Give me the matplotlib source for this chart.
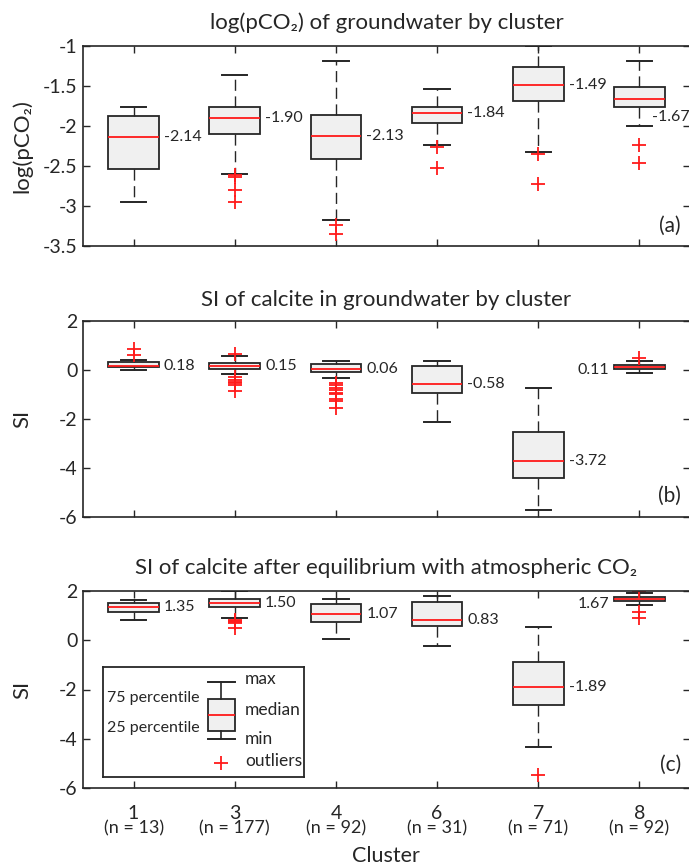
import matplotlib
matplotlib.use("Agg")
import matplotlib.pyplot as plt
from matplotlib import font_manager as fm

# ---------------- data ----------------
clusters = ['1', '3', '4', '6', '7', '8']
n_counts = [13, 177, 92, 31, 71, 92]

# Panel (a): log(pCO2)
a_whislo = [-2.95, -2.60, -3.17, -2.24, -2.33, -2.00]
a_q1 = [-2.54, -2.10, -2.41, -1.96, -1.69, -1.76]
a_med = [-2.14, -1.90, -2.13, -1.84, -1.49, -1.67]
a_q3 = [-1.88, -1.76, -1.86, -1.76, -1.26, -1.52]
a_whishi = [-1.77, -1.36, -1.19, -1.545, -1.00, -1.195]
a_fliers = [[], [-2.62, -2.64, -2.80, -2.95], [-3.24, -3.355],
            [-2.27, -2.53], [-2.35, -2.73], [-2.24, -2.47]]

# Panel (b): SI of calcite in groundwater
b_whislo = [-0.01, -0.18, -0.31, -2.13, -5.71, -0.13]
b_q1 = [0.13, 0.05, -0.08, -0.95, -4.39, 0.04]
b_med = [0.18, 0.15, 0.06, -0.58, -3.72, 0.11]
b_q3 = [0.31, 0.27, 0.23, 0.16, -2.54, 0.20]
b_whishi = [0.41, 0.57, 0.37, 0.38, -0.73, 0.38]
b_fliers = [[0.62, 0.85], [0.65, -0.30, -0.40, -0.48, -0.55, -0.62, -0.85],
            [-0.52, -0.62, -0.72, -0.82, -0.92, -1.0, -1.2, -1.25, -1.55],
            [], [], [0.47]]

# Panel (c): SI of calcite after equilibrium with atmospheric CO2
c_whislo = [0.84, 0.91, 0.05, -0.23, -4.34, 1.42]
c_q1 = [1.15, 1.37, 0.74, 0.56, -2.63, 1.60]
c_med = [1.35, 1.50, 1.07, 0.83, -1.89, 1.67]
c_q3 = [1.53, 1.67, 1.49, 1.54, -0.88, 1.77]
c_whishi = [1.65, 2.0, 1.69, 1.80, 0.53, 1.93]
c_fliers = [[], [0.82, 0.78, 0.74, 0.70, 0.50], [], [], [-5.49], [2.0, 1.15, 0.90]]

titles = ["log(pCO\u2082) of groundwater by cluster",
          "SI of calcite in groundwater by cluster",
          "SI of calcite after equilibrium with atmospheric CO\u2082"]
ylabels = ["log(pCO\u2082)", "SI", "SI"]
panel_tags = ["(a)", "(b)", "(c)"]
a_yticks = [-1, -1.5, -2, -2.5, -3, -3.5]
si_yticks = [2, 0, -2, -4, -6]

# legend key values (schematic)
key_stats = dict(whislo=37.4, q1=46, med=61.4, q3=78, whishi=95, fliers=[14])

# ---------------- style ----------------
names = {f.name for f in fm.fontManager.ttflist}
main = 'Liberation Sans Narrow' if 'Liberation Sans Narrow' in names else 'Lato'
plt.rcParams['font.family'] = [main, 'DejaVu Sans']
plt.rcParams['axes.unicode_minus'] = False
DARK = '#262626'
BOXFILL = '#f0f0f0'

W, H = 689, 867
fig = plt.figure(figsize=(W / 100, H / 100), dpi=100)

def px_axes(left, top, right, bottom):
    return fig.add_axes([left / W, 1 - bottom / H, (right - left) / W, (bottom - top) / H])

axes = [px_axes(83, 45.7, 690, 246), px_axes(83, 321, 690, 517), px_axes(83, 591, 690, 788)]
title_y = [23, 300, 568]
tag_y = [0.10, 0.11, 0.12]

panels = [
    (a_whislo, a_q1, a_med, a_q3, a_whishi, a_fliers, (-3.5, -1), a_yticks),
    (b_whislo, b_q1, b_med, b_q3, b_whishi, b_fliers, (-6, 2), si_yticks),
    (c_whislo, c_q1, c_med, c_q3, c_whishi, c_fliers, (-6, 2), si_yticks),
]
positions = list(range(1, len(clusters) + 1))

def fmt(v):
    return f"{v:g}"

for i, (ax, (wl, q1, md, q3, wh, fl, ylim, yt)) in enumerate(zip(axes, panels)):
    stats = []
    for k in range(len(clusters)):
        stats.append(dict(whislo=wl[k], q1=q1[k], med=md[k], q3=q3[k], whishi=wh[k], fliers=fl[k]))
    ax.bxp(stats, positions=positions, widths=0.5, capwidths=0.25, patch_artist=True,
           boxprops=dict(facecolor=BOXFILL, edgecolor=DARK, linewidth=1.3),
           whiskerprops=dict(color=DARK, linewidth=1.0, linestyle=(0, (8, 4))),
           capprops=dict(color=DARK, linewidth=1.4),
           medianprops=dict(color='#ff1a1a', linewidth=1.3),
           flierprops=dict(marker='+', markeredgecolor='#ff1a1a', markersize=10,
                           markeredgewidth=1.3, linestyle='none'),
           zorder=2)
    for k, pos in enumerate(positions):
        label = f"{md[k]:.2f}"
        x, y, ha = pos + 0.30, md[k], 'left'
        if k == len(clusters) - 1:
            if i == 0:
                x, y = pos + 0.12, md[k] - 0.22
            else:
                x, ha = pos - 0.30, 'right'
                y = md[k] - (0.10 if i == 1 else 0.18)
        ax.text(x, y, label, ha=ha, va='center', fontsize=11.5, color=DARK)
    ax.set_xlim(0.5, len(clusters) + 0.5)
    ax.set_ylim(*ylim)
    ax.set_yticks(yt)
    ax.set_yticklabels([fmt(v) for v in yt])
    ax.set_xticks(positions)
    ax.tick_params(direction='in', length=5, width=1.0, color=DARK, labelcolor=DARK,
                   labelsize=14, top=True, right=True, pad=4)
    for s in ax.spines.values():
        s.set_color(DARK)
        s.set_linewidth(1.2)
    ax.text(0.985, tag_y[i], panel_tags[i], transform=ax.transAxes, ha='right', va='center',
            fontsize=15, color=DARK)
    bb = ax.get_position()
    fig.text((bb.x0 + bb.x1) / 2, 1 - title_y[i] / H, titles[i], ha='center', va='center',
             fontsize=16, color=DARK)
    fig.text(22 / W, (bb.y0 + bb.y1) / 2, ylabels[i], rotation=90, ha='center', va='center',
             fontsize=16, color=DARK)
    if i < 2:
        ax.set_xticklabels([])
    else:
        ax.set_xticklabels(clusters)
        ax.tick_params(axis='x', pad=12)
        for k, pos in enumerate(positions):
            ax.text(pos, -0.205, f"(n = {n_counts[k]})", transform=ax.get_xaxis_transform(),
                    ha='center', va='center', fontsize=13, color=DARK)

fig.text(386 / W, 1 - 856 / H, "Cluster", ha='center', va='center', fontsize=15.5, color=DARK)

# ---------------- legend key (panel c) ----------------
ax = axes[2]
lg = ax.inset_axes([(103.5 - 83) / 607, (788 - 776.7) / 197, 200 / 607, 109.4 / 197])
lg.bxp([key_stats], positions=[117.5], widths=27, capwidths=27, patch_artist=True,
       boxprops=dict(facecolor=BOXFILL, edgecolor=DARK, linewidth=1.3),
       whiskerprops=dict(color=DARK, linewidth=1.2),
       capprops=dict(color=DARK, linewidth=1.4),
       medianprops=dict(color='#ff1a1a', linewidth=1.3),
       flierprops=dict(marker='+', markeredgecolor='#ff1a1a', markersize=10,
                       markeredgewidth=1.3, linestyle='none'))
lg.set_xlim(0, 200)
lg.set_ylim(0, 109.4)
lg.set_xticks([])
lg.set_yticks([])
for s in lg.spines.values():
    s.set_color(DARK)
    s.set_linewidth(1.3)
for txt, yy in [("max", 97.7), ("median", 66.7), ("min", 37.4), ("outliers", 15.7)]:
    lg.text(141.5, yy, txt, ha='left', va='center', fontsize=12.5, color=DARK)
for txt, yy in [("75 percentile", 78.4), ("25 percentile", 49)]:
    lg.text(96, yy, txt, ha='right', va='center', fontsize=11.5, color=DARK)

fig.savefig("out.png", dpi=100)
